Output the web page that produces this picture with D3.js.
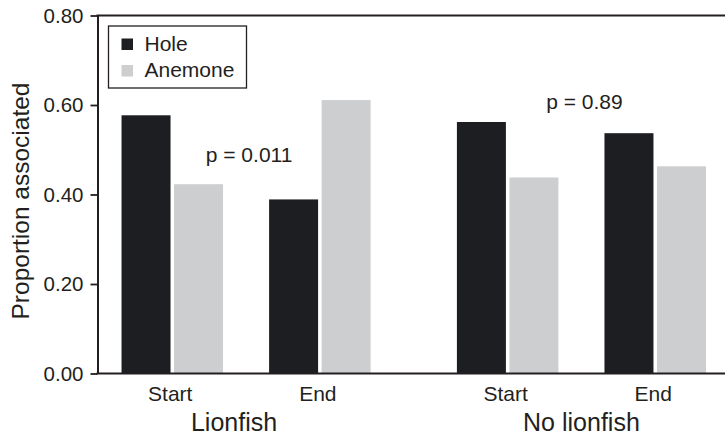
<!DOCTYPE html>
<html>
<head>
<meta charset="utf-8">
<script src="https://cdn.jsdelivr.net/npm/d3@7"></script>
<style>
  html, body { margin: 0; padding: 0; background: #fff; }
  svg { display: block; font-family: "Liberation Sans", Arial, Helvetica, sans-serif; }
</style>
</head>
<body>
<svg id="chart" width="725" height="437"></svg>
<script>
// Treatment groups, sampling times and habitat types
const groups = ["Lionfish", "No lionfish"];
const phases = ["Start", "End"];
const series = ["Hole", "Anemone"];

// Proportion of fish associated with each habitat, ordered group × phase
const holeValues    = [0.577, 0.389, 0.562, 0.537];
const anemoneValues = [0.423, 0.611, 0.438, 0.463];

// Test results shown above each group
const pLabels = ["p = 0.011", "p = 0.89"];
const pLabelLevel = [0.472, 0.590];

// Y axis ticks
const yTicks = [0, 0.2, 0.4, 0.6, 0.8];
const yTickLabels = ["0.00", "0.20", "0.40", "0.60", "0.80"];

// ---- layout and style ----
const axisX = 97.5, plotTop = 15.5, plotBottom = 373.5, plotRight = 725;
const ink = "#231f20";
const colors = { Hole: "#1d1e21", Anemone: "#cdcecf" };
const groupLabelShift = { "Lionfish": -12, "No lionfish": 0 };

const svg = d3.select("#chart");

const y = d3.scaleLinear().domain([0, 0.8]).range([plotBottom, plotTop]);

const xGroup = d3.scaleBand().domain(groups).range([98.5, 729]).paddingInner(0.12).paddingOuter(0);
const xPhase = d3.scaleBand().domain(phases).range([0, xGroup.bandwidth()]);
const xSeries = d3.scaleBand().domain(series).range([-50.75, 50.75]).paddingInner(0.0667);

// Flatten the value arrays into one record per bar
const rows = [];
groups.forEach((g, gi) => {
  phases.forEach((p, pi) => {
    const i = gi * phases.length + pi;
    rows.push({ group: g, phase: p, series: "Hole", value: holeValues[i] });
    rows.push({ group: g, phase: p, series: "Anemone", value: anemoneValues[i] });
  });
});
const phaseCenter = (g, p) => xGroup(g) + xPhase(p) + xPhase.bandwidth() / 2;

// Bars
svg.append("g").selectAll("rect")
  .data(rows)
  .join("rect")
  .attr("x", d => phaseCenter(d.group, d.phase) + xSeries(d.series))
  .attr("width", xSeries.bandwidth())
  .attr("y", d => y(d.value))
  .attr("height", d => y(0) - y(d.value))
  .attr("fill", d => colors[d.series]);

// Y axis
const yAxis = d3.axisLeft(y)
  .tickValues(yTicks)
  .tickFormat((d, i) => yTickLabels[i])
  .tickSize(7)
  .tickPadding(7)
  .tickSizeOuter(0);

const gy = svg.append("g")
  .attr("transform", `translate(${axisX},0)`)
  .call(yAxis);
gy.select(".domain").attr("stroke", ink).attr("stroke-width", 2);
gy.selectAll(".tick line").attr("stroke", ink).attr("stroke-width", 1.8);
gy.selectAll(".tick text")
  .attr("fill", ink)
  .style("font-size", "20.5px")
  .style("font-family", "'Liberation Sans', Arial, Helvetica, sans-serif");

// Top and bottom frame lines
svg.append("line")
  .attr("x1", axisX - 1).attr("x2", plotRight)
  .attr("y1", y(0.8)).attr("y2", y(0.8))
  .attr("stroke", ink).attr("stroke-width", 2);
svg.append("line")
  .attr("x1", axisX - 1).attr("x2", plotRight)
  .attr("y1", y(0)).attr("y2", y(0))
  .attr("stroke", ink).attr("stroke-width", 2);

// Phase labels under each pair of bars
const phaseLabels = [];
groups.forEach(g => phases.forEach(p => phaseLabels.push({ g, p })));
svg.append("g").selectAll("text")
  .data(phaseLabels)
  .join("text")
  .attr("x", d => phaseCenter(d.g, d.p) - 2)
  .attr("y", 401)
  .attr("text-anchor", "middle")
  .attr("fill", ink)
  .style("font-size", "21px")
  .text(d => d.p);

// Group labels
svg.append("g").selectAll("text")
  .data(groups)
  .join("text")
  .attr("x", g => xGroup(g) + xGroup.bandwidth() / 2 + groupLabelShift[g])
  .attr("y", 430.5)
  .attr("text-anchor", "middle")
  .attr("fill", ink)
  .style("font-size", "25px")
  .text(g => g);

// P-value annotations
svg.append("g").selectAll("text")
  .data(groups)
  .join("text")
  .attr("x", (g, i) => xGroup(g) + xGroup.bandwidth() / 2 + 3)
  .attr("y", (g, i) => y(pLabelLevel[i]))
  .attr("text-anchor", "middle")
  .attr("fill", ink)
  .style("font-size", "21px")
  .text((g, i) => pLabels[i]);

// Y axis title
svg.append("text")
  .attr("transform", `translate(28.5,201) rotate(-90)`)
  .attr("text-anchor", "middle")
  .attr("fill", ink)
  .style("font-size", "24.5px")
  .text("Proportion associated");

// Legend
const legend = svg.append("g").attr("transform", "translate(108.5,26)");
legend.append("rect")
  .attr("width", 138).attr("height", 62)
  .attr("fill", "#fff").attr("stroke", ink).attr("stroke-width", 1.3);
const items = legend.selectAll("g.item")
  .data(series)
  .join("g")
  .attr("class", "item")
  .attr("transform", (d, i) => `translate(13,${12.5 + i * 26.5})`);
items.append("rect")
  .attr("width", 11.5).attr("height", 11.5)
  .attr("fill", d => colors[d]);
items.append("text")
  .attr("x", 23)
  .attr("y", 12)
  .attr("fill", ink)
  .style("font-size", "21px")
  .text(d => d);
</script>
</body>
</html>
